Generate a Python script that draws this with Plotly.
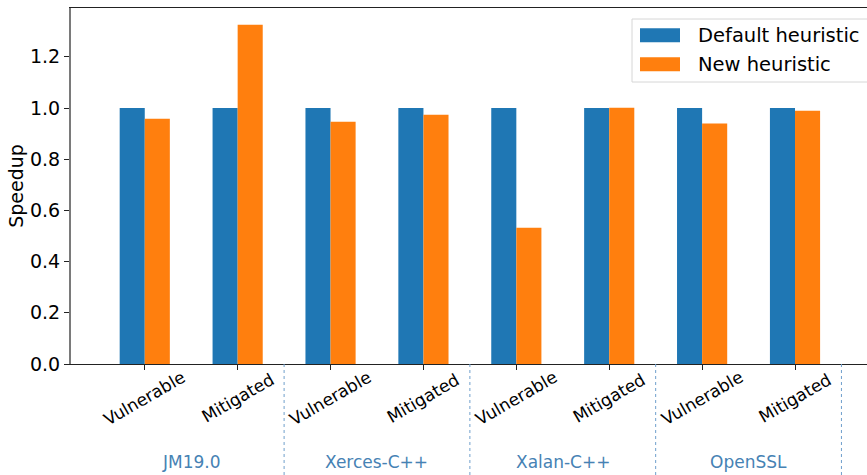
import plotly.graph_objects as go

# Benchmarks and build variants
groups = ["JM19.0", "Xerces-C++", "Xalan-C++", "OpenSSL"]
variants = ["Vulnerable", "Mitigated"]

# Speedup normalised to the default heuristic
default_speedup = [1.0, 1.0, 1.0, 1.0, 1.0, 1.0, 1.0, 1.0]
new_speedup = [0.958, 1.325, 0.946, 0.974, 0.532, 1.001, 0.939, 0.989]

series_names = ["Default heuristic", "New heuristic"]
series_colors = ["#1f77b4", "#ff7f0e"]

y_ticks = [0.0, 0.2, 0.4, 0.6, 0.8, 1.0, 1.2]

W, H = 867, 475
ML, MR, MT, MB = 71, 0, 8, 111
PW, PH = W - ML - MR, H - MT - MB

FONT = "DejaVu Sans"
GROUP_COLOR = "#4682b4"

x_pos = list(range(len(groups) * len(variants)))
tick_text = [v for _ in groups for v in variants]


def px_x(px):
    return (px - ML) / PW


def px_y(py):
    return (H - MB - py) / PH


fig = go.Figure()
for name, vals, color in zip(series_names, [default_speedup, new_speedup], series_colors):
    fig.add_trace(go.Bar(x=x_pos, y=vals, name=name, marker=dict(color=color, line=dict(width=0)),
                         showlegend=False))

annotations = []
# rotated variant labels under each tick
for x, t in zip(x_pos, tick_text):
    annotations.append(dict(x=x, y=px_y(398), xref="x", yref="paper", text=t, showarrow=False,
                            textangle=-30, xanchor="center", yanchor="middle",
                            font=dict(family=FONT, size=17, color="#000000")))
# benchmark group labels
n = len(variants)
for gi, g in enumerate(groups):
    annotations.append(dict(x=gi * n + (n - 1) / 2, y=px_y(461.5), xref="x", yref="paper", text=g,
                            showarrow=False, xanchor="center", yanchor="middle",
                            font=dict(family=FONT, size=17, color=GROUP_COLOR)))

shapes = []
# dotted separators between groups
for gi in range(len(groups)):
    xs = gi * n + n - 0.5
    shapes.append(dict(type="line", xref="x", yref="paper", x0=xs, x1=xs, y0=0, y1=px_y(H),
                       line=dict(color="#6f9fcc", width=1, dash="dot")))

# legend box
shapes.append(dict(type="rect", xref="paper", yref="paper", x0=px_x(632), x1=px_x(870),
                   y0=px_y(82), y1=px_y(19), line=dict(color="#d6d6d6", width=1),
                   fillcolor="rgba(255,255,255,0.8)", layer="above"))
for i, (name, color) in enumerate(zip(series_names, series_colors)):
    top = 28.3 + i * 29
    shapes.append(dict(type="rect", xref="paper", yref="paper", x0=px_x(640), x1=px_x(680),
                       y0=px_y(top + 14), y1=px_y(top), line=dict(width=0), fillcolor=color,
                       layer="above"))
    annotations.append(dict(x=px_x(696), y=px_y(top + 7), xref="paper", yref="paper", text=name,
                            showarrow=False, xanchor="left", yanchor="middle",
                            font=dict(family=FONT, size=19.5, color="#000000")))

fig.update_layout(
    width=W, height=H,
    margin=dict(l=ML, r=MR, t=MT, b=MB, pad=0),
    paper_bgcolor="white", plot_bgcolor="white",
    barmode="group", bargap=0.46, bargroupgap=0,
    font=dict(family=FONT, size=19, color="#000000"),
    annotations=annotations, shapes=shapes,
    xaxis=dict(range=[-0.794, 7.775], tickvals=x_pos, showticklabels=False, ticks="outside",
               ticklen=5, tickwidth=1, tickcolor="#222222", showgrid=False, zeroline=False,
               showline=True, linecolor="#222222", linewidth=1.3, mirror=True),
    yaxis=dict(range=[0, PH / 256], tickvals=y_ticks, tickformat=".1f", ticks="outside",
               ticklen=5, tickwidth=1, tickcolor="#222222", showgrid=False, zeroline=False,
               showline=True, linecolor="#7a7a7a", linewidth=2,
               tickfont=dict(family=FONT, size=19),
               title=dict(text="Speedup", font=dict(family=FONT, size=19), standoff=1)),
)

fig.write_html("out.html")
